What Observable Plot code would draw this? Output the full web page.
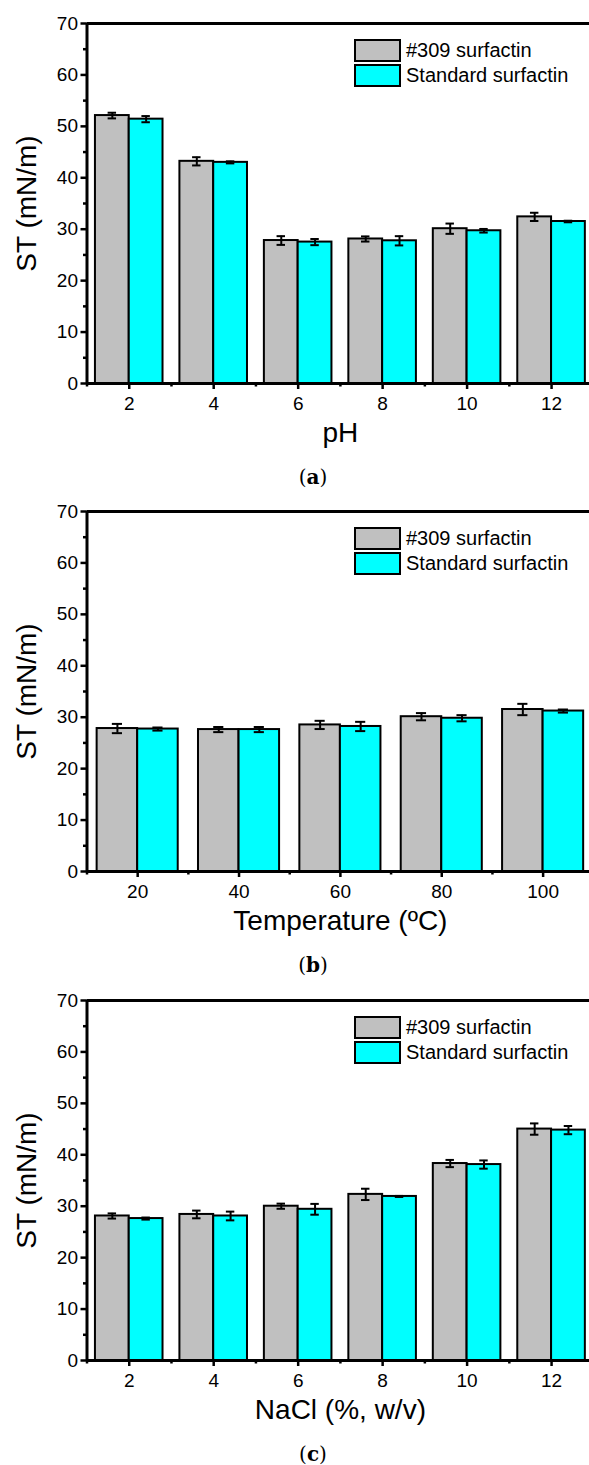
<!DOCTYPE html>
<html><head><meta charset="utf-8">
<script src="https://cdn.jsdelivr.net/npm/d3@7"></script>
<script src="https://cdn.jsdelivr.net/npm/@observablehq/plot@0.6"></script>
<style>
html,body{margin:0;padding:0;background:#fff;}
body{width:589px;height:1465px;position:relative;overflow:hidden;font-family:"Liberation Sans",Arial,sans-serif;}
.panel{position:absolute;left:0;width:589px;height:489px;overflow:hidden;}
.legend{position:absolute;left:354px;top:39px;}
.row{display:flex;align-items:center;height:23px;margin-bottom:2px;}
.sw{box-sizing:border-box;width:47px;height:23px;border:2px solid #000;}
.lab{margin-left:5px;font-size:20px;color:#000;white-space:nowrap;line-height:23px;}
.cap{position:absolute;width:100px;left:263px;top:464px;height:26px;line-height:26px;text-align:center;font-family:"DejaVu Serif","Liberation Serif",serif;font-size:20px;color:#000;}
</style></head><body>
<script>
// ---- data ----
const seriesNames = ["#309 surfactin", "Standard surfactin"];
const seriesColors = ["#c0c0c0", "#00ffff"];
const yLabel = "ST (mN/m)";
const yTicks = [0, 10, 20, 30, 40, 50, 60, 70];
const yMinorTicks = [5, 15, 25, 35, 45, 55, 65];

// (a) pH
const phLevels = [2, 4, 6, 8, 10, 12];
const phSample = [52.1, 43.2, 27.8, 28.1, 30.1, 32.4];
const phSampleErr = [0.55, 0.8, 0.85, 0.5, 1.0, 0.8];
const phStandard = [51.4, 43.0, 27.5, 27.75, 29.7, 31.5];
const phStandardErr = [0.6, 0.2, 0.6, 0.9, 0.35, 0.15];
const phMinorTicks = [1, 3, 5, 7, 9, 11, 13];

// (b) Temperature
const tempLevels = [20, 40, 60, 80, 100];
const tempSample = [27.8, 27.6, 28.5, 30.1, 31.5];
const tempSampleErr = [0.9, 0.5, 0.8, 0.7, 1.1];
const tempStandard = [27.7, 27.6, 28.2, 29.8, 31.2];
const tempStandardErr = [0.3, 0.5, 0.9, 0.6, 0.3];
const tempMinorTicks = [10, 30, 50, 70, 90, 110];

// (c) NaCl
const naclLevels = [2, 4, 6, 8, 10, 12];
const naclSample = [28.1, 28.4, 30.0, 32.3, 38.3, 45.0];
const naclSampleErr = [0.5, 0.75, 0.5, 1.1, 0.7, 1.1];
const naclStandard = [27.6, 28.1, 29.4, 31.9, 38.1, 44.8];
const naclStandardErr = [0.2, 0.85, 1.05, 0.1, 0.8, 0.8];
const naclMinorTicks = [1, 3, 5, 7, 9, 11, 13];

const panels = [
  {levels: phLevels, sample: phSample, sampleErr: phSampleErr, standard: phStandard, standardErr: phStandardErr,
   minor: phMinorTicks, domain: [1, 13], step: 2, xLabel: "pH", caption: "a", top: 0},
  {levels: tempLevels, sample: tempSample, sampleErr: tempSampleErr, standard: tempStandard, standardErr: tempStandardErr,
   minor: tempMinorTicks, domain: [10, 110], step: 20, xLabel: "Temperature (\u00BAC)", caption: "b", top: 488},
  {levels: naclLevels, sample: naclSample, sampleErr: naclSampleErr, standard: naclStandard, standardErr: naclStandardErr,
   minor: naclMinorTicks, domain: [1, 13], step: 2, xLabel: "NaCl (%, w/v)", caption: "c", top: 977}
];

function buildRows(p) {
  const rows = [];
  p.levels.forEach((x, i) => {
    const w = 0.4 * p.step;
    rows.push({series: seriesNames[0], x1: x - w, x2: x, v: p.sample[i], e: p.sampleErr[i], cap: 0.05 * p.step});
    rows.push({series: seriesNames[1], x1: x, x2: x + w, v: p.standard[i], e: p.standardErr[i], cap: 0.05 * p.step});
  });
  return rows;
}

panels.forEach(p => {
  const rows = buildRows(p);
  const H = 455;
  const chart = Plot.plot({
    width: 589,
    height: H,
    marginLeft: 86.5,
    marginRight: -4.3,
    marginTop: 23,
    marginBottom: H - 383,
    style: {fontFamily: "'Liberation Sans', Arial, sans-serif", fontSize: "19px", color: "#000", background: "transparent"},
    x: {domain: p.domain},
    y: {domain: [0, 70]},
    color: {domain: seriesNames, range: seriesColors},
    marks: [
      Plot.rectY(rows, {x1: "x1", x2: "x2", y1: 0, y2: "v", fill: "series", stroke: "#000", strokeWidth: 2}),
      Plot.ruleX(rows, {x: d => (d.x1 + d.x2) / 2, y1: d => d.v - d.e, y2: d => d.v + d.e, stroke: "#000", strokeWidth: 2}),
      Plot.ruleY(rows, {y: d => d.v + d.e, x1: d => (d.x1 + d.x2) / 2 - d.cap, x2: d => (d.x1 + d.x2) / 2 + d.cap, stroke: "#000", strokeWidth: 2}),
      Plot.ruleY(rows, {y: d => d.v - d.e, x1: d => (d.x1 + d.x2) / 2 - d.cap, x2: d => (d.x1 + d.x2) / 2 + d.cap, stroke: "#000", strokeWidth: 2}),
      Plot.ruleY([0, 70], {stroke: "#000", strokeWidth: 3}),
      Plot.ruleX([p.domain[0]], {stroke: "#000", strokeWidth: 3}),
      Plot.axisY({ticks: yTicks, tickSize: 6, tickPadding: 3, fontSize: 19, strokeWidth: 2.5, label: null}),
      Plot.axisY({ticks: yMinorTicks, tickSize: 3.5, fill: "none", strokeWidth: 2.5, label: null}),
      Plot.axisX({ticks: p.levels, tickSize: 6, tickPadding: 7, fontSize: 19, strokeWidth: 2.5, label: null}),
      Plot.axisX({ticks: p.minor, tickSize: 3.5, fill: "none", strokeWidth: 2.5, label: null}),
      Plot.text([yLabel], {text: d => d, frameAnchor: "left", textAnchor: "middle", lineAnchor: "middle", dx: -60, rotate: -90, fontSize: 28}),
      Plot.text([p.xLabel], {text: d => d, frameAnchor: "bottom", textAnchor: "middle", lineAnchor: "middle", dy: 50, fontSize: 28})
    ]
  });
  const div = document.createElement("div");
  div.className = "panel";
  div.style.top = p.top + "px";
  div.appendChild(chart);
  const leg = document.createElement("div");
  leg.className = "legend";
  seriesNames.forEach((n, i) => {
    const r = document.createElement("div");
    r.className = "row";
    const sw = document.createElement("div");
    sw.className = "sw";
    sw.style.background = seriesColors[i];
    const lab = document.createElement("div");
    lab.className = "lab";
    lab.textContent = n;
    r.appendChild(sw); r.appendChild(lab);
    leg.appendChild(r);
  });
  div.appendChild(leg);
  const cap = document.createElement("div");
  cap.className = "cap";
  cap.innerHTML = "(<b>" + p.caption + "</b>)";
  div.appendChild(cap);
  document.body.appendChild(div);
});
</script>
</body></html>
